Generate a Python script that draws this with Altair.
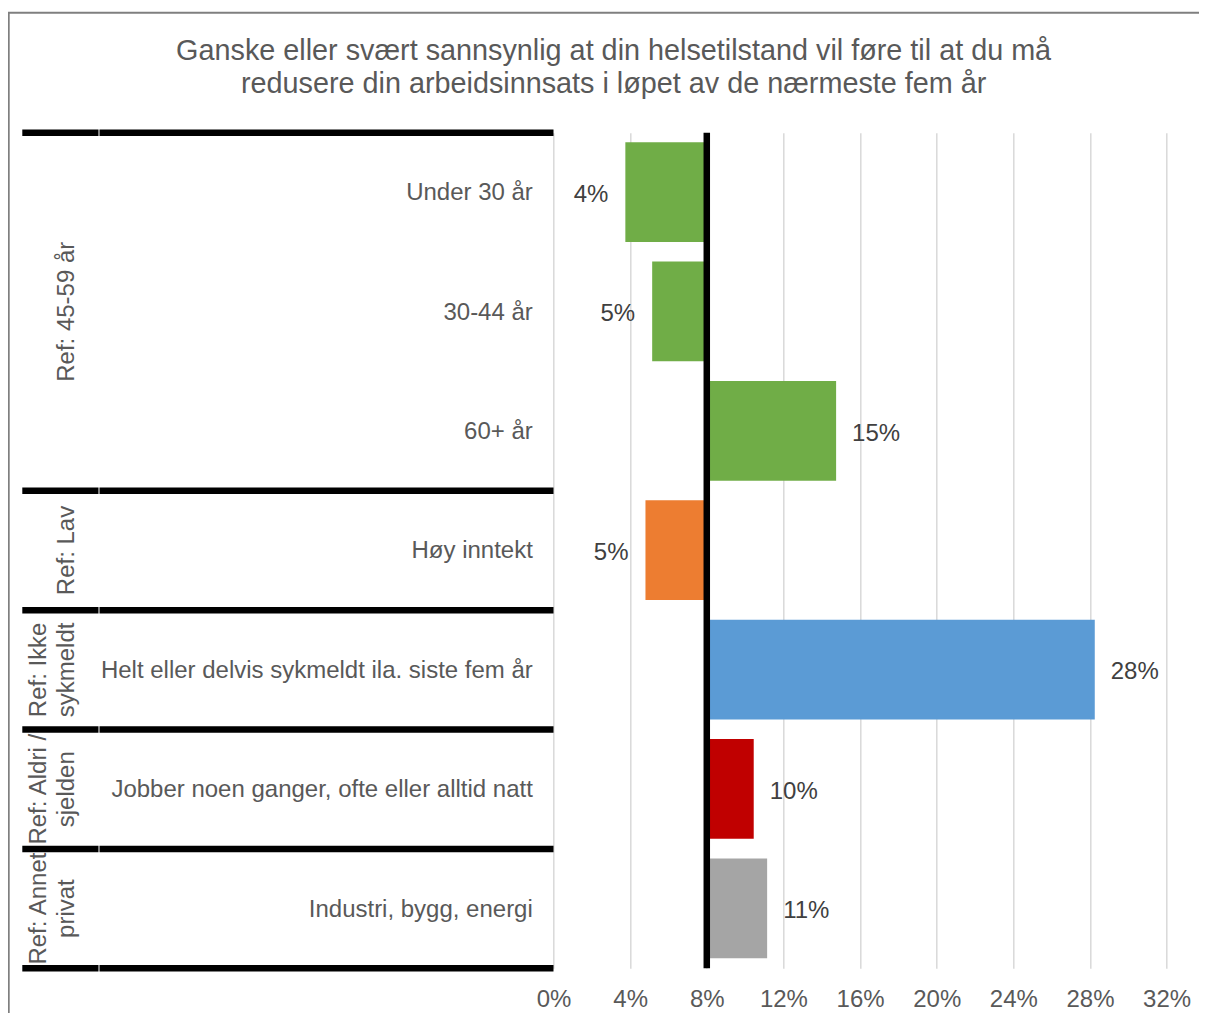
import altair as alt
import pandas as pd

# ---------------- data ----------------
title_lines = [
    "Ganske eller svært sannsynlig at din helsetilstand vil føre til at du må",
    "redusere din arbeidsinnsats i løpet av de nærmeste fem år",
]
categories = [
    "Under 30 år",
    "30-44 år",
    "60+ år",
    "Høy inntekt",
    "Helt eller delvis sykmeldt ila. siste fem år",
    "Jobber noen ganger, ofte eller alltid natt",
    "Industri, bygg, energi",
]
values = [3.75, 5.15, 14.75, 4.8, 28.25, 10.45, 11.15]
category_group = ["age", "age", "age", "income", "sick", "night", "industry"]
group_keys = ["age", "income", "sick", "night", "industry"]
group_labels = [
    "Ref: 45-59 år",
    "Ref: Lav",
    "Ref: Ikke\nsykmeldt",
    "Ref: Aldri /\nsjelden",
    "Ref: Annet\nprivat",
]
group_colors = ["#70ad47", "#ed7d31", "#5b9bd5", "#c00000", "#a5a5a5"]
reference_value = 8
x_ticks = [0, 4, 8, 12, 16, 20, 24, 28, 32]

# ---------------- layout / style ----------------
FONT = "Liberation Sans"
TABLE_W = 531.2          # width of the left label table (px)
PX_PER_PCT = 19.16       # horizontal scale
X_MAX = 33.5
PLOT_W = TABLE_W + PX_PER_PCT * X_MAX
PLOT_H = 835.6
X_MIN = -TABLE_W / PX_PER_PCT
CAT_LABEL_X = 510.5
GROUP_LABEL_X = 57.2     # anchor of the last line of a group label
GROUP_LH = 28.5
SEP1_END = 76.2
SEP2_START = 77.2
PAD_LEFT = 14.3
PAD_RIGHT = 4
FRAME_LEFT = -13.6
FRAME_TOP = -120

# ---------------- tables ----------------
df = pd.DataFrame({
    "idx": list(range(len(categories))),
    "category": categories,
    "value": values,
    "group": category_group,
})

g_start, g_count = [], []
for g in group_keys:
    members = [i for i, c in enumerate(category_group) if c == g]
    g_start.append(members[0])
    g_count.append(len(members))
gdf = pd.DataFrame({"group": group_keys, "label": group_labels,
                    "start": g_start, "count": g_count})
bdf = pd.DataFrame({"b": [0] + [s + c for s, c in zip(g_start, g_count)]})
one = pd.DataFrame({"k": [0]})

xscale = alt.Scale(domain=[X_MIN, X_MAX], nice=False, zero=False)
yscale = alt.Scale(domain=[0, len(categories)], reverse=True, nice=False, zero=False)

base = alt.Chart(df).transform_calculate(
    y0="datum.idx + 0.08",
    y1="datum.idx + 0.915",
    ymid="datum.idx + 0.5",
    label="format(datum.value, '.0f') + '%'",
)

# outer chart-area border (top and left edges; the others fall outside the picture)
frame_top = alt.Chart(one).mark_rule(color="#7f7f7f", strokeWidth=2).encode(
    x=alt.value(FRAME_LEFT - 1), x2=alt.value(PLOT_W + 60), y=alt.value(FRAME_TOP),
)
frame_left = alt.Chart(one).mark_rule(color="#7f7f7f", strokeWidth=2).encode(
    x=alt.value(FRAME_LEFT), y=alt.value(FRAME_TOP), y2=alt.value(PLOT_H + 120),
)

bars = base.mark_bar().encode(
    x=alt.X("value:Q", scale=xscale,
            axis=alt.Axis(values=x_ticks, labelExpr="datum.value + '%'", title=None,
                          grid=True, gridColor="#d9d9d9", gridWidth=1.5,
                          domain=False, ticks=False, tickSize=0, labelPadding=19.3,
                          labelFontSize=24, labelFont=FONT, labelColor="#595959",
                          labelFlush=False, labelOverlap=False)),
    x2=alt.datum(reference_value),
    y=alt.Y("y0:Q", scale=yscale, axis=None),
    y2="y1:Q",
    color=alt.Color("group:N", scale=alt.Scale(domain=group_keys, range=group_colors), legend=None),
)

ref_line = alt.Chart(one).mark_rule(color="black", strokeWidth=6.5).encode(
    x=alt.datum(reference_value), y=alt.datum(0), y2=alt.datum(len(categories)),
)

sep1 = alt.Chart(bdf).mark_rule(color="black", strokeWidth=6.5).encode(
    y=alt.Y("b:Q", scale=yscale), x=alt.value(0), x2=alt.value(SEP1_END),
)
sep2 = alt.Chart(bdf).mark_rule(color="black", strokeWidth=6.5).encode(
    y=alt.Y("b:Q", scale=yscale), x=alt.value(SEP2_START), x2=alt.value(TABLE_W),
)

cat_text = base.mark_text(align="right", baseline="middle", fontSize=24, font=FONT,
                          color="#595959", dy=1).encode(
    x=alt.value(CAT_LABEL_X), y=alt.Y("ymid:Q", scale=yscale), text="category:N",
)

group_text = alt.Chart(gdf).transform_calculate(
    gmid="datum.start + datum.count / 2",
    gx=f"{GROUP_LABEL_X} - (length(split(datum.label, '\\n')) - 1) * {GROUP_LH}",
).mark_text(angle=270, align="center", baseline="bottom", fontSize=24, font=FONT,
            color="#595959", lineBreak="\n", lineHeight=GROUP_LH).encode(
    x=alt.X("gx:Q", scale=None), y=alt.Y("gmid:Q", scale=yscale), text="label:N",
)

val_neg = base.transform_filter(f"datum.value < {reference_value}").mark_text(
    align="right", baseline="middle", dx=-17, dy=2.5, fontSize=24, font=FONT, color="#404040"
).encode(x=alt.X("value:Q", scale=xscale), y=alt.Y("ymid:Q", scale=yscale), text="label:N")

val_pos = base.transform_filter(f"datum.value >= {reference_value}").mark_text(
    align="left", baseline="middle", dx=16, dy=2.5, fontSize=24, font=FONT, color="#404040"
).encode(x=alt.X("value:Q", scale=xscale), y=alt.Y("ymid:Q", scale=yscale), text="label:N")

chart = alt.layer(
    frame_top, frame_left, bars, ref_line, sep1, sep2, cat_text, group_text, val_neg, val_pos
).properties(
    width=PLOT_W,
    height=PLOT_H,
    title=alt.TitleParams(text=title_lines, anchor="middle", frame="group",
                          fontSize=28.8, font=FONT, fontWeight="normal",
                          color="#595959", lineHeight=33, offset=-87.4, dx=4.8),
    autosize=alt.AutoSizeParams(type="none"),
    padding={"left": PAD_LEFT, "top": 124.7, "right": PAD_RIGHT, "bottom": 44.7},
).configure_view(stroke=None)

chart.save("out.html", embed_options={"renderer": "svg", "actions": False})
